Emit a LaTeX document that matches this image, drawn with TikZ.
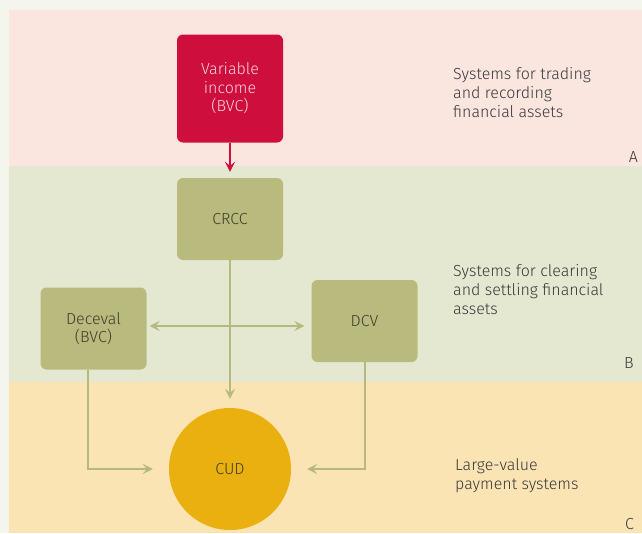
\documentclass[tikz,border=0pt]{standalone}
\usepackage{fontspec}
\setmainfont{Fira Sans}[UprightFont=* Light]
\usetikzlibrary{arrows.meta}
\definecolor{pagebg}{HTML}{F4F5EC}
\definecolor{bandA}{HTML}{FAE5DF}
\definecolor{bandB}{HTML}{E5E8D0}
\definecolor{bandC}{HTML}{FAE4B4}
\definecolor{crimson}{HTML}{CE0E3D}
\definecolor{olivebox}{HTML}{B8BA7E}
\definecolor{oliveline}{HTML}{B5B87F}
\definecolor{gold}{HTML}{EAB00F}
\definecolor{txt}{HTML}{383838}
\definecolor{boxtxt}{HTML}{3E3E28}
\definecolor{pinktxt}{HTML}{F8D6DD}
\tikzset{
  sysbox/.style={rounded corners=6pt, minimum width=106pt, minimum height=82pt,
    inner sep=0pt, align=center, fill=olivebox, text=boxtxt,
    font=\fontsize{16}{18.5}\selectfont},
  link/.style={draw=oliveline, line width=2pt,
    -{Stealth[length=10pt, width=10pt, inset=4pt]}},
  redlink/.style={draw=crimson, line width=2pt,
    -{Stealth[length=10pt, width=10pt, inset=4pt]}},
  desc/.style={anchor=north west, align=left, inner sep=0pt, text=txt,
    font=\fontsize{16}{19}\selectfont},
  tag/.style={anchor=base east, inner sep=0pt, text=txt,
    font=\fontsize{16}{19}\selectfont}
}
\begin{document}
\begin{tikzpicture}[x=1pt,y=-1pt]
% page and the three bands
\fill[pagebg] (0,0) rectangle (642,533);
\fill[bandA] (9,10) rectangle (642,166);
\fill[bandB] (9,166) rectangle (642,382);
\fill[bandC] (9,382) rectangle (642,533);

% systems
\node[sysbox, fill=crimson, text=pinktxt, minimum height=108pt] (vi) at (230,88.5) {Variable\\income\\(BVC)};
\node[sysbox] (crcc) at (230,219) {CRCC};
\node[sysbox] (dec) at (93.5,328.5) {Deceval\\(BVC)};
\node[sysbox] (dcv) at (364.5,321) {DCV};
\node[circle, fill=gold, minimum size=122pt, inner sep=0pt, text=boxtxt,
  font=\fontsize{16}{18}\selectfont] (cud) at (230,469) {CUD};

% connections
\coordinate (mid) at (230,326);
\draw[redlink, shorten >=6pt] (vi.south) -- (crcc.north);
\draw[link, shorten >=9pt] (crcc.south) -- (cud.north);
\draw[link, {Stealth[length=10pt, width=10pt, inset=4pt]}-{Stealth[length=10pt, width=10pt, inset=4pt]},
  shorten <=3pt, shorten >=7pt] (dec.east |- mid) -- (dcv.west |- mid);
\draw[link, shorten >=16pt] ([xshift=-5.5pt]dec.south) |- (cud.west);
\draw[link, shorten >=16pt] (dcv.south) |- (cud.east);

% band descriptions
\node[desc] (dA) at (453,67) {Systems for trading\\and recording\\financial assets};
\node[desc] (dB) at (453,264) {Systems for clearing\\and settling financial\\assets};
\node[desc] (dC) at (455,458) {Large-value\\payment systems};
\node[tag] (tA) at (638,162) {A};
\node[tag] (tB) at (634,368) {B};
\node[tag] (tC) at (634,529) {C};
\end{tikzpicture}
\end{document}
